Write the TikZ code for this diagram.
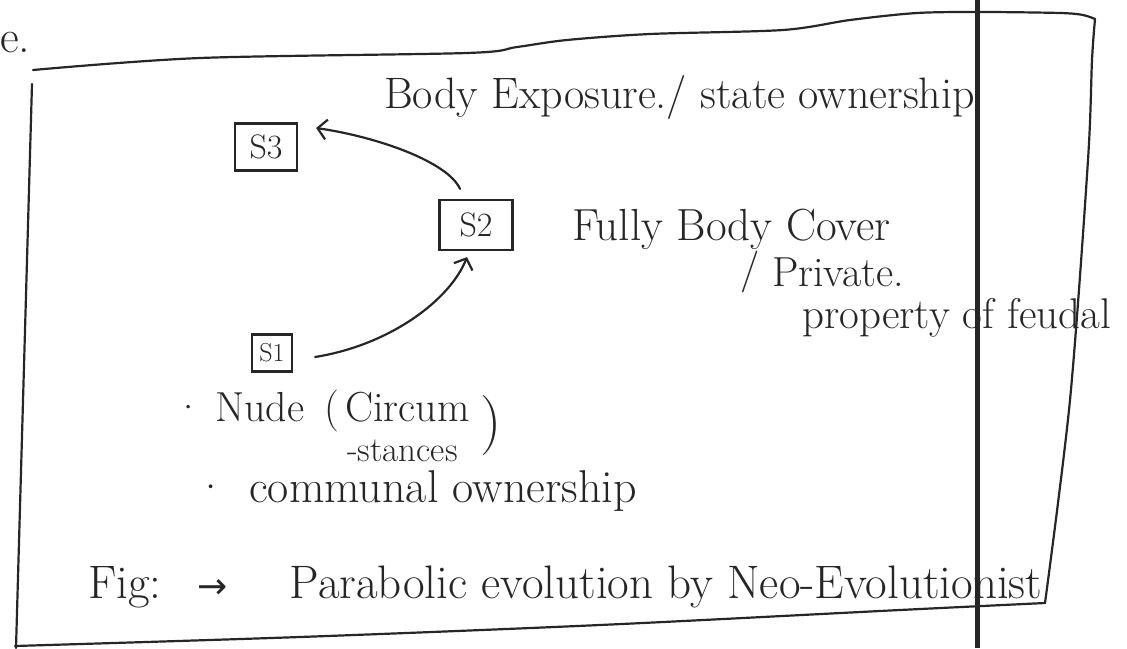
\documentclass[tikz,border=0pt]{standalone}
\usepackage{fontspec}
\newfontfamily\symfont{DejaVu Sans}
\usetikzlibrary{arrows.meta}
\begin{document}
\begin{tikzpicture}[x=1pt,y=-1pt,
  ink/.style={draw=black!85, line width=2.2pt, line cap=round, line join=round},
  hand/.style={text=black!85, font=\fontsize{44}{50}\selectfont, inner sep=0pt, anchor=base west},
  sbox/.style={draw=black!85, line width=2.2pt, inner sep=0pt, text=black!85},
  arr/.style={ink, -{Straight Barb[length=9pt,width=20pt,line width=2.2pt]}}]
\useasboundingbox (0,0) rectangle (1127,648);
% frame
\draw[ink] plot[smooth] coordinates {(33,70) (200,58) (467,53) (517,47) (567,40) (650,34) (783,30) (850,20) (917,13) (983,12) (1060,13) (1083,15) (1095,19)};
\draw[ink] plot[smooth] coordinates {(1095,19) (1092,60) (1088,160) (1070,400) (1045,603)};
\draw[ink] plot[smooth] coordinates {(15,646) (300,637) (600,625) (900,610) (1045,603)};
\draw[ink] (32,84) -- (16,648);
% binding line
\draw[black!85, line width=5pt] (977,0) -- (977,648);
% leftover text
\node[hand, font=\fontsize{46}{50}\selectfont] (prev) at (0,52) {e.};
% state boxes
\node[sbox, minimum width=62pt, minimum height=47pt, font=\fontsize{34}{38}\selectfont] (s3) at (266,147) {S3};
\node[sbox, minimum width=73pt, minimum height=50pt, font=\fontsize{34}{38}\selectfont] (s2) at (476,225) {S2};
\node[sbox, minimum width=40pt, minimum height=37pt, font=\fontsize{26}{30}\selectfont] (s1) at (272,353) {S1};
% arrows
\draw[arr] ([xshift=22pt,yshift=-4pt]s1.east) .. controls (390,345) and (450,300) .. ([xshift=-9pt,yshift=-6pt]s2.south);
\draw[arr] ([xshift=-16pt,yshift=10pt]s2.north) .. controls (448,162) and (378,137) .. ([xshift=18pt,yshift=19pt]s3.east);
% labels
\node[hand] (body) at (384,108) {Body Exposure./ state ownership};
\node[hand, font=\fontsize{45}{50}\selectfont] (cover) at (572,240) {Fully Body Cover};
\node[hand, font=\fontsize{42}{46}\selectfont] (priv) at (740,286) {\raisebox{4pt}{/} Private.};
\node[hand, font=\fontsize{43}{46}\selectfont] (prop) at (802,328) {property of feudal};
\node[hand, font=\fontsize{42}{46}\selectfont] (nude) at (173,421) {·\hspace{12pt}Nude\hspace{20pt}(\hspace{6pt}Circum};
\node[hand, font=\fontsize{35}{40}\selectfont] (stances) at (347,461) {-stances};
\node[hand, font=\fontsize{60}{60}\selectfont] (paren) at (480,440) {)};
\node[hand, font=\fontsize{46}{50}\selectfont] (communal) at (194,502) {·\hspace{22pt}communal ownership};
\node[hand, font=\fontsize{47}{52}\selectfont] (caption) at (88,598) {Fig:\hspace{36pt}{\symfont\fontsize{36}{40}\selectfont →}\hspace{62pt}Parabolic evolution by Neo-Evolutionist};
\end{tikzpicture}
\end{document}
